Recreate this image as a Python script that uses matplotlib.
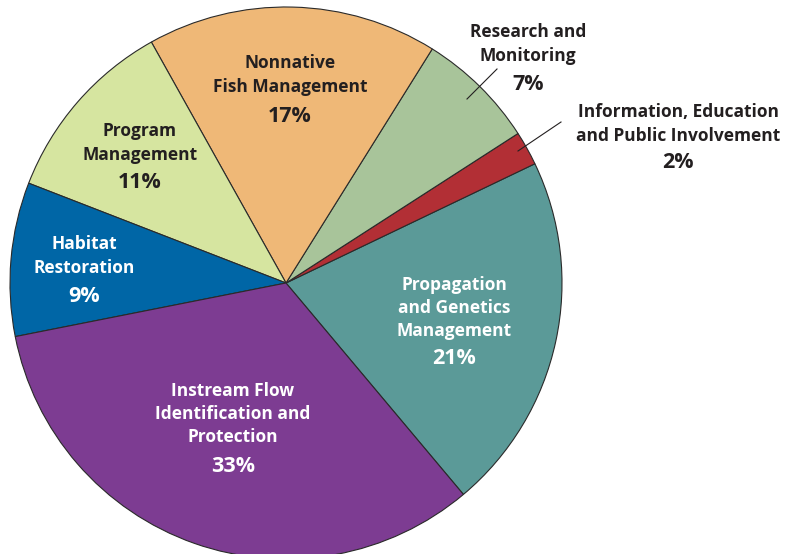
import matplotlib
matplotlib.use("Agg")
import matplotlib.pyplot as plt

# slices in counter-clockwise order, starting at the propagation/instream edge
labels = ["Propagation\nand Genetics\nManagement",
          "Information, Education\nand Public Involvement",
          "Research and\nMonitoring",
          "Nonnative\nFish Management",
          "Program\nManagement",
          "Habitat\nRestoration",
          "Instream Flow\nIdentification and\nProtection"]
values = [21, 2, 7, 17, 11, 9, 33]
colors = ["#5b9a98", "#b22f35", "#a8c49a", "#efb877", "#d6e5a0", "#0066a6", "#7d3c92"]

# label placement (pixel coords from top-left), text colour
label_pos = [(454, 308), (678, 124), (528, 44), (290, 75), (140, 143), (84, 256), (233, 414)]
label_col = ["white", "#231f20", "#231f20", "#231f20", "#231f20", "white", "white"]
pct_pos = [(454, 358), (678, 163), (528, 84), (290, 116), (140, 183), (84, 296), (233, 466)]

W, H = 786, 554
fig = plt.figure(figsize=(W / 100, H / 100), dpi=100)
ax = fig.add_axes([0, 0, 1, 1])

ax.pie(values, colors=colors, startangle=-50, counterclock=True,
       center=(286, H - 283), radius=276, frame=True,
       wedgeprops=dict(edgecolor="#2a2a2a", linewidth=0.8))
ax.set_xlim(0, W)
ax.set_ylim(0, H)
ax.axis("off")

font = ["Open Sans", "DejaVu Sans"]
for lab, (x, y), c, (px, py), v in zip(labels, label_pos, label_col, pct_pos, values):
    ax.text(x, H - y, lab, ha="center", va="center", color=c, fontsize=12.5,
            fontweight="bold", family=font, linespacing=1.38)
    ax.text(px, H - py, f"{v}%", ha="center", va="center", color=c, fontsize=15.5,
            fontweight="bold", family=font)

# leader lines for the two small slices
ax.plot([467, 497], [H - 99, H - 69], color="#231f20", lw=0.8)
ax.plot([518, 561], [H - 151, H - 122], color="#231f20", lw=0.8)

fig.savefig("out.png", dpi=100)
